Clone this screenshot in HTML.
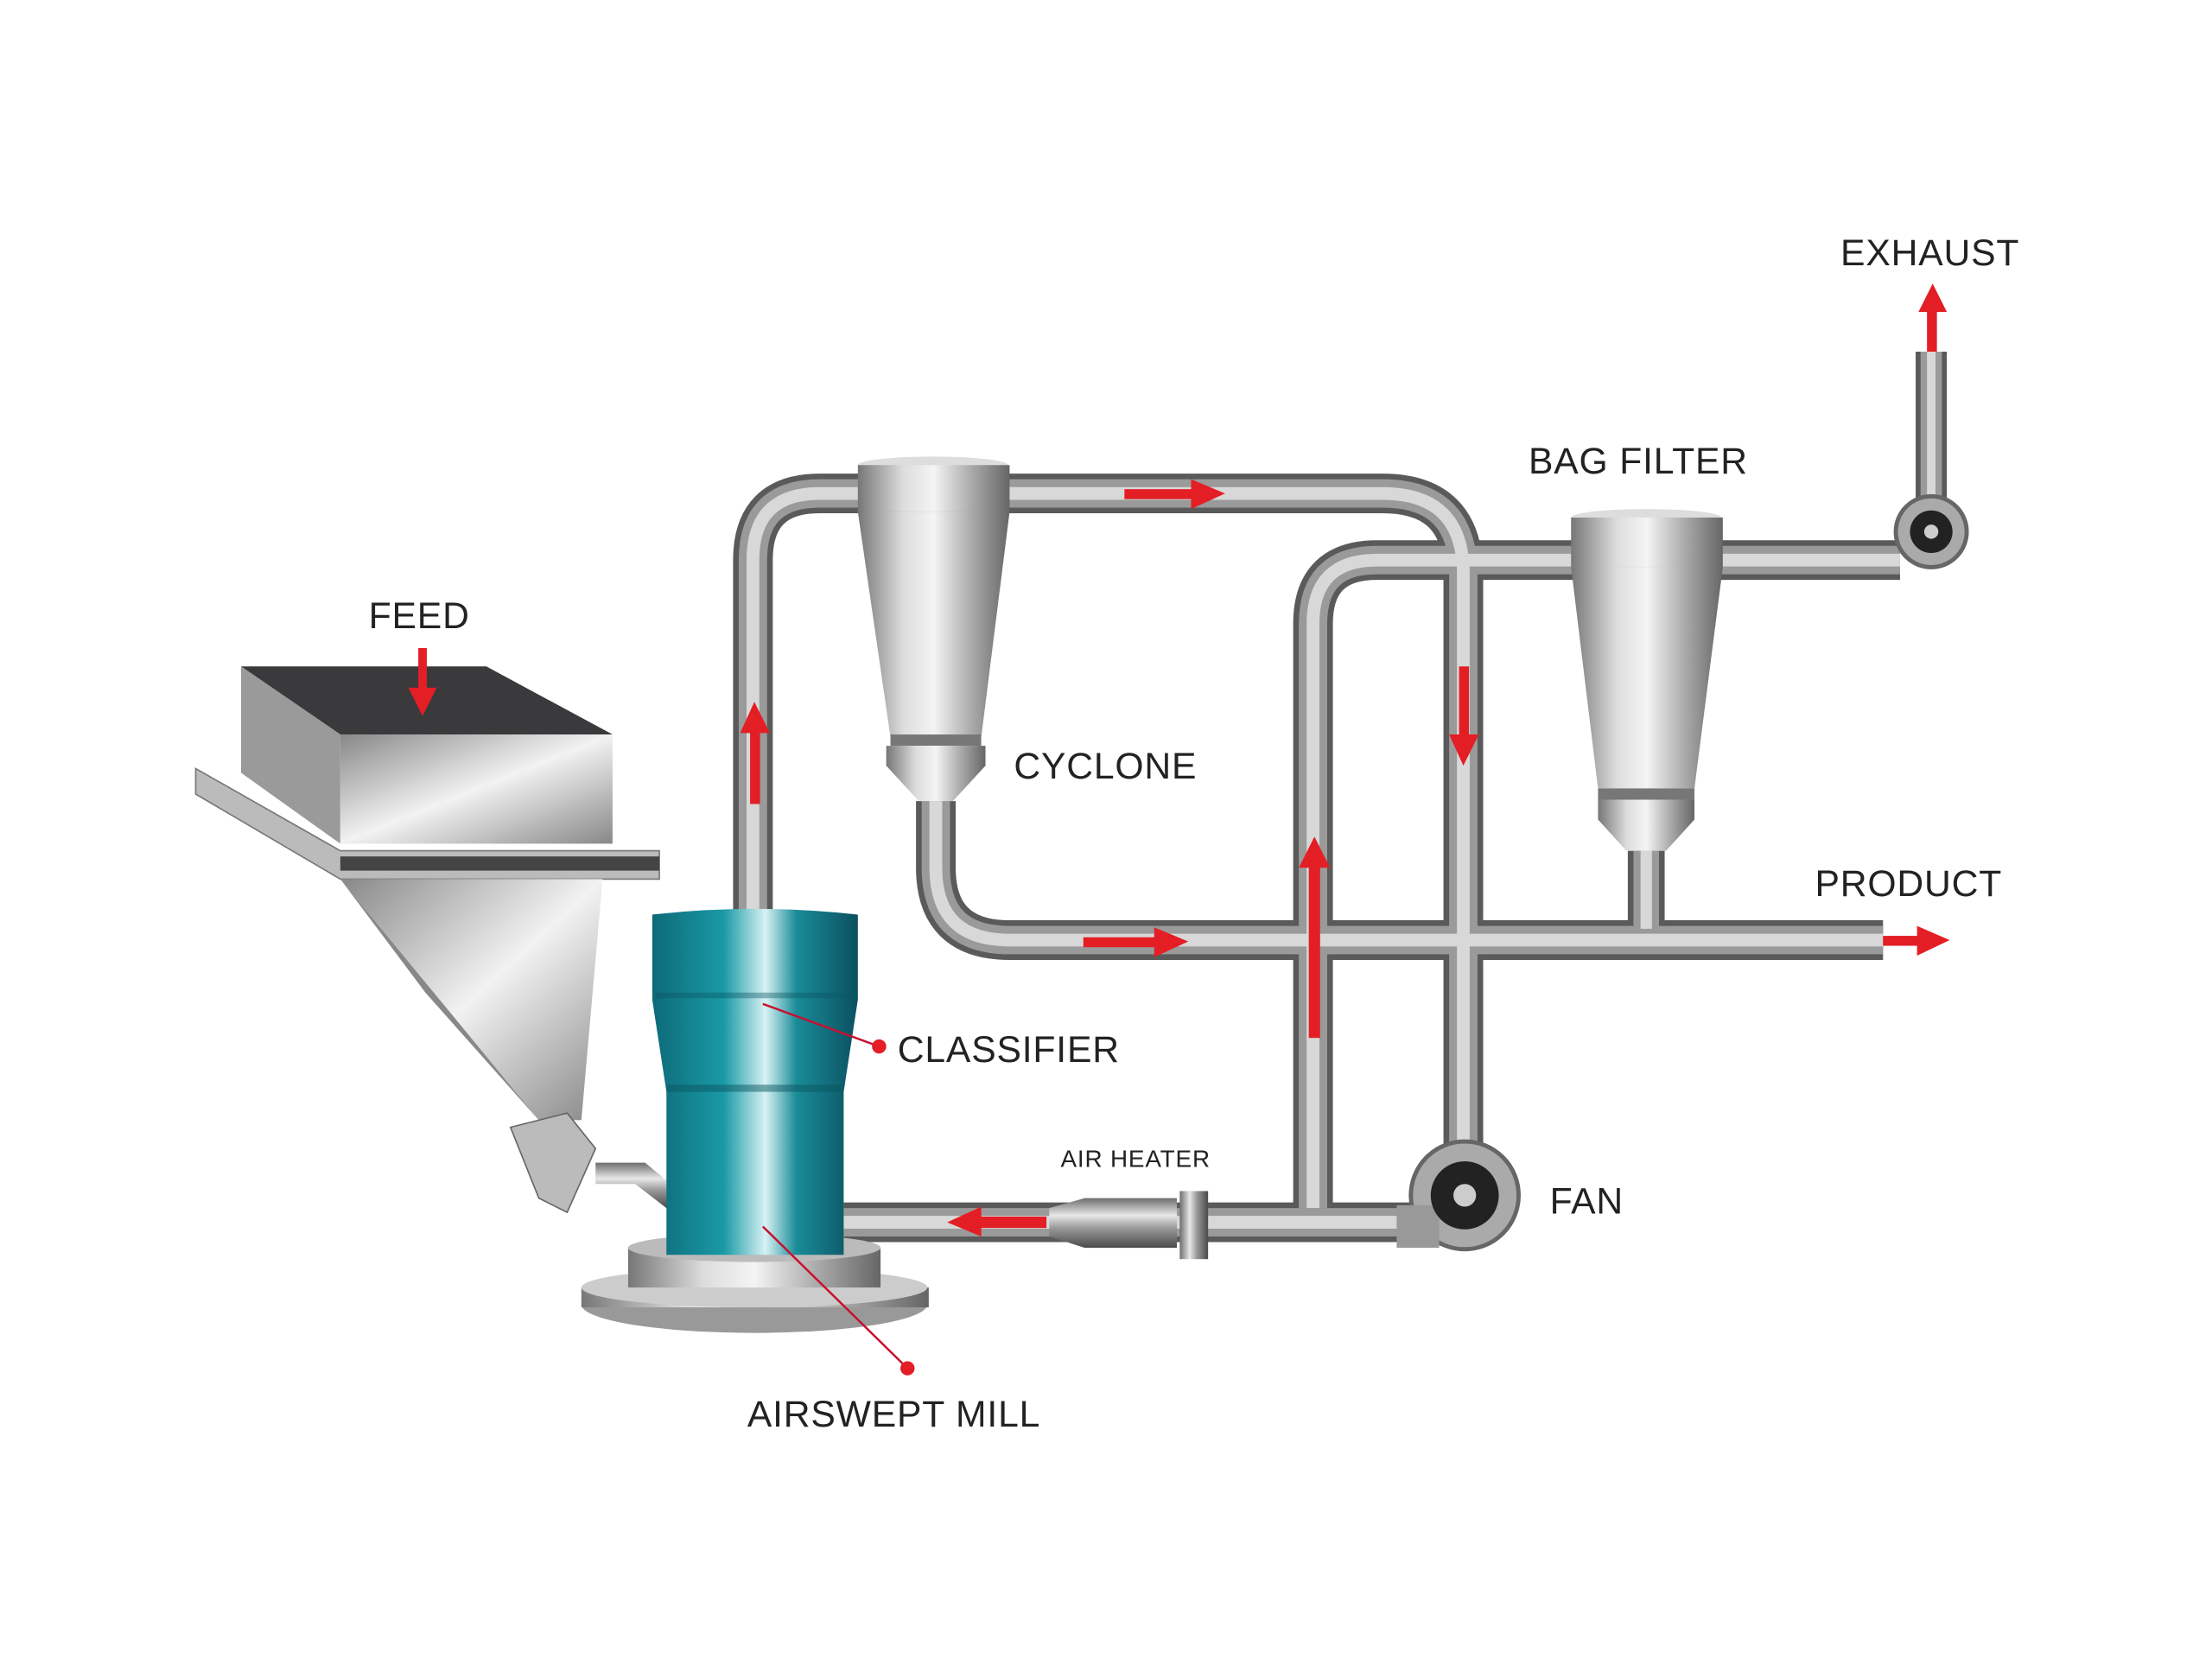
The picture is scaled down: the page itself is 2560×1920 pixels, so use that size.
<!DOCTYPE html>
<html><head><meta charset="utf-8"><style>
html,body{margin:0;padding:0;background:#fff;width:2560px;height:1920px;overflow:hidden}
svg{display:block}
text{font-family:"Liberation Sans",sans-serif;fill:#222;letter-spacing:0.5px}
</style></head><body>
<svg width="2560" height="1920" viewBox="0 0 1560 1170" preserveAspectRatio="none" xmlns="http://www.w3.org/2000/svg">
<defs>
<linearGradient id="ph" x1="0" y1="0" x2="0" y2="1"><stop offset="0" stop-color="#6d6d6d"/><stop offset=".35" stop-color="#e8e8e8"/><stop offset=".6" stop-color="#9a9a9a"/><stop offset="1" stop-color="#4a4a4a"/></linearGradient>
<linearGradient id="pv" x1="0" y1="0" x2="1" y2="0"><stop offset="0" stop-color="#6d6d6d"/><stop offset=".35" stop-color="#e8e8e8"/><stop offset=".6" stop-color="#9a9a9a"/><stop offset="1" stop-color="#4a4a4a"/></linearGradient>
<linearGradient id="metal" x1="0" y1="0" x2="1" y2="0"><stop offset="0" stop-color="#777"/><stop offset=".3" stop-color="#ddd"/><stop offset=".5" stop-color="#f4f4f4"/><stop offset=".75" stop-color="#aaa"/><stop offset="1" stop-color="#666"/></linearGradient>
<linearGradient id="teal" x1="0" y1="0" x2="1" y2="0"><stop offset="0" stop-color="#0d6a78"/><stop offset=".35" stop-color="#1a9aa6"/><stop offset=".55" stop-color="#d8f2f4"/><stop offset=".7" stop-color="#1a8c98"/><stop offset="1" stop-color="#0b5060"/></linearGradient>
<linearGradient id="box" x1="0" y1="0" x2="1" y2="1"><stop offset="0" stop-color="#888"/><stop offset=".5" stop-color="#f2f2f2"/><stop offset="1" stop-color="#888"/></linearGradient>
</defs>
<g fill="none" stroke-linecap="butt" id="pipes">
<g>
<path d="M531 650 V395 Q531 348 578 348 H975 Q1032 348 1032 405 V820" stroke="#5a5a5a" stroke-width="28"/>
<path d="M926 852 V440 Q926 395 971 395 H1340" stroke="#5a5a5a" stroke-width="28"/>
<path d="M1362 360 V248" stroke="#5a5a5a" stroke-width="22"/>
<path d="M660 565 V612 Q660 663 712 663 H1328" stroke="#5a5a5a" stroke-width="28"/>
<path d="M1161 600 V655" stroke="#5a5a5a" stroke-width="26"/>
<path d="M595 862 H1000" stroke="#5a5a5a" stroke-width="28"/>
</g>
<g stroke="#9a9a9a">
<path d="M531 650 V395 Q531 348 578 348 H975 Q1032 348 1032 405 V820" stroke-width="20"/>
<path d="M926 852 V440 Q926 395 971 395 H1340" stroke-width="20"/>
<path d="M1362 360 V248" stroke-width="15"/>
<path d="M660 565 V612 Q660 663 712 663 H1328" stroke-width="20"/>
<path d="M1161 600 V655" stroke-width="18"/>
<path d="M595 862 H1000" stroke-width="20"/>
</g>
<g stroke="#d8d8d8">
<path d="M531 650 V395 Q531 348 578 348 H975 Q1032 348 1032 405 V820" stroke-width="9"/>
<path d="M926 852 V440 Q926 395 971 395 H1340" stroke-width="9"/>
<path d="M1362 360 V248" stroke-width="6"/>
<path d="M660 565 V612 Q660 663 712 663 H1328" stroke-width="9"/>
<path d="M1161 600 V655" stroke-width="8"/>
<path d="M595 862 H1000" stroke-width="9"/>
</g>
</g>
<!-- air heater -->
<path d="M740 852 L765 845 H830 V880 H765 L740 872Z" fill="url(#ph)"/>
<rect x="832" y="840" width="20" height="48" fill="url(#pv)"/>
<!-- fans -->
<circle cx="1033" cy="843" r="38" fill="#aaa" stroke="#666" stroke-width="3"/>
<rect x="985" y="850" width="30" height="30" fill="#999"/>
<circle cx="1033" cy="843" r="24" fill="#222"/><circle cx="1033" cy="843" r="8" fill="#ccc"/>
<circle cx="1362" cy="375" r="25" fill="#aaa" stroke="#666" stroke-width="3"/>
<circle cx="1362" cy="375" r="15" fill="#222"/><circle cx="1362" cy="375" r="5" fill="#ccc"/>
<!-- cyclone -->
<ellipse cx="658" cy="328" rx="53" ry="6" fill="#ddd"/>
<rect x="605" y="328" width="107" height="33" fill="url(#metal)"/>
<path d="M605 361 H712 L692 520 H628Z" fill="url(#metal)"/>
<rect x="628" y="518" width="64" height="8" fill="#777"/>
<path d="M625 526 H695 V540 L672 565 H648 L625 540Z" fill="url(#metal)"/>
<!-- bag filter -->
<ellipse cx="1161" cy="365" rx="53" ry="6" fill="#ddd"/>
<rect x="1108" y="365" width="107" height="35" fill="url(#metal)"/>
<path d="M1108 400 H1215 L1195 556 H1127Z" fill="url(#metal)"/>
<rect x="1127" y="556" width="68" height="8" fill="#777"/>
<path d="M1127 564 H1195 V578 L1175 600 H1147 L1127 578Z" fill="url(#metal)"/>
<!-- hopper -->
<path d="M170 470 H343 L432 518 H240Z" fill="#3a3a3c"/>
<path d="M170 470 L240 518 V595 L170 545Z" fill="#9a9a9a"/>
<rect x="240" y="518" width="192" height="77" fill="url(#box)"/>
<path d="M138 542 L240 600 H465 V620 H240 L138 560Z" fill="#bbb" stroke="#777"/>
<rect x="240" y="604" width="225" height="10" fill="#444"/>
<path d="M240 620 H425 L410 790 H380Z" fill="url(#box)"/>
<path d="M240 620 L380 790 L300 700Z" fill="#888"/>
<path d="M360 795 L400 785 L420 810 L400 855 L380 845Z" fill="#bbb" stroke="#666"/>
<path d="M420 820 H455 L485 845 L470 852 L448 835 H420Z" fill="url(#ph)"/>
<!-- mill -->
<ellipse cx="532" cy="920" rx="122" ry="20" fill="#999"/>
<rect x="410" y="908" width="245" height="14" fill="url(#metal)"/>
<ellipse cx="532" cy="908" rx="122" ry="14" fill="#ccc"/>
<rect x="443" y="880" width="178" height="28" fill="url(#metal)"/>
<ellipse cx="532" cy="880" rx="89" ry="10" fill="#bbb"/>
<path d="M460 645 Q532 637 605 645 V705 L595 770 V885 H470 V770 L460 705Z" fill="url(#teal)"/>
<rect x="470" y="765" width="125" height="5" fill="#0a5562" opacity=".5"/>
<rect x="462" y="700" width="142" height="4" fill="#0a5562" opacity=".4"/>
<!-- leaders -->
<path d="M538 708 L620 738" stroke="#c8102e" stroke-width="1.5"/><circle cx="620" cy="738" r="5" fill="#e31e24"/>
<path d="M538 865 L640 965" stroke="#c8102e" stroke-width="1.5"/><circle cx="640" cy="965" r="5" fill="#e31e24"/>
<!-- red arrows -->
<g fill="#e31e24">
<rect x="295" y="457" width="6" height="30"/><path d="M288 485 H308 L298 505Z"/>
<rect x="529" y="515" width="7" height="52"/><path d="M522 517 H543 L532 495Z"/>
<rect x="793" y="345" width="50" height="7"/><path d="M840 338 V359 L864 348Z"/>
<rect x="764" y="661" width="52" height="7"/><path d="M814 654 V675 L838 664Z"/>
<rect x="1029" y="470" width="7" height="50"/><path d="M1022 518 H1043 L1032 540Z"/>
<rect x="923" y="610" width="8" height="122"/><path d="M916 612 H938 L927 590Z"/>
<rect x="690" y="858" width="48" height="8"/><path d="M692 851 V872 L668 862Z"/>
<rect x="1328" y="660" width="26" height="7"/><path d="M1352 653 V674 L1375 663Z"/>
<rect x="1359" y="218" width="7" height="30"/><path d="M1353 220 H1373 L1363 200Z"/>
</g>
<!-- labels -->
<text x="260" y="443" font-size="26">FEED</text>
<text x="715" y="549" font-size="26">CYCLONE</text>
<text x="1078" y="334" font-size="26">BAG FILTER</text>
<text x="1298" y="187" font-size="26">EXHAUST</text>
<text x="1280" y="632" font-size="26">PRODUCT</text>
<text x="633" y="749" font-size="26">CLASSIFIER</text>
<text x="748" y="823" font-size="17">AIR HEATER</text>
<text x="1093" y="856" font-size="26">FAN</text>
<text x="527" y="1006" font-size="26">AIRSWEPT MILL</text>
</svg>
</body></html>
